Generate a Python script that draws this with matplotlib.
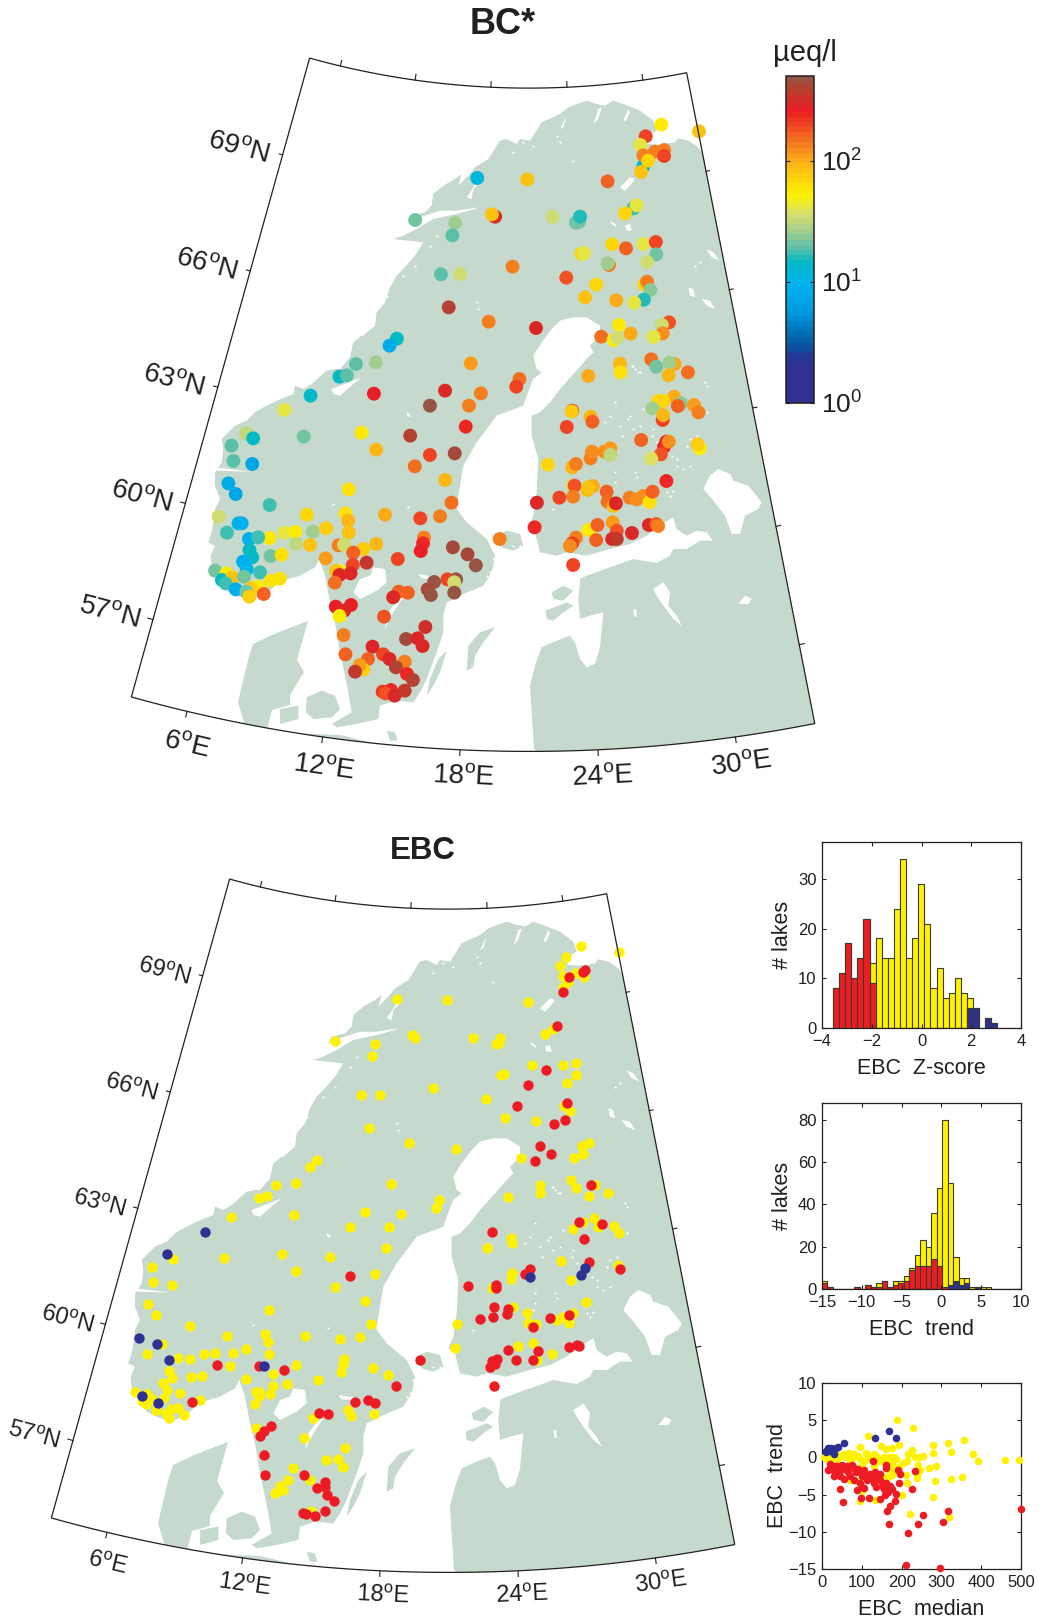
import numpy as np
import matplotlib
matplotlib.use("Agg")
import matplotlib.pyplot as plt
from matplotlib.colors import LinearSegmentedColormap, LogNorm
from matplotlib.patches import Polygon

plt.rcParams['font.family'] = ['Liberation Sans', 'DejaVu Sans']
plt.rcParams['mathtext.fontset'] = 'custom'
plt.rcParams['mathtext.rm'] = 'Liberation Sans'
plt.rcParams['mathtext.default'] = 'regular'

# lake positions are in a grid: (px-120)*2.178, (py-40)*3
bc_gx = [1179,1261,1145,1133,1165,1185,1140,1140,1185,1150,1135,778,887,1062,1118,1125,1100,817,810,942,1000,993,1002,643,730,724,1072,1102,1140,1167,1168,1005,1011,1065,1062,1148,855,699,741,972,1037,1142,1148,1155,1141,1013,1081,1120,716,803,906,1196,1180,1087,1112,1182,1162,1048,1075,1083,603,587,514,557,764,1157,1208,1168,1197,1089,1090,1237,1195,1020,870,863,478,494,415,553,708,786,1207,1172,1183,1160,1222,1215,1250,1260,675,760,358,985,984,1025,1029,1182,1183,973,753,
         275,290,400,526,632,243,247,288,558,675,729,1135,1190,1185,1195,1178,1157,1263,1258,932,985,993,1025,1028,1055,1068,1068,642,708,236,252,498,326,1190,985,990,1030,1018,1020,987,1060,1062,1075,1080,1110,1125,1140,1153,1160,908,957,722,491,407,577,697,654,215,497,
         258,265,233,449,420,358,382,498,326,281,301,383,414,476,488,558,530,662,660,655,725,757,775,903,827,1020,1040,1073,1082,1072,1082,1115,1152,1168,1172,993,985,980,1037,987,
         282,288,328,352,268,276,305,207,232,222,245,270,230,252,328,348,300,285,275,282,313,448,508,507,537,478,470,502,478,468,605,713,732,728,684,670,677,728,607,627,595,470,503,488,478,575,665,623,648,659,487,550,491,573,587,540,620,601,530,522,512,625,638,572,590,578,598,620]
bc_gy = [254,274,289,315,335,330,378,346,348,362,396,414,418,424,505,496,520,530,523,531,545,548,530,540,549,586,613,625,612,606,643,641,640,675,670,666,680,703,702,713,734,734,725,750,779,772,781,788,802,845,864,847,855,855,881,880,891,890,900,893,896,917,972,967,970,958,972,980,968,971,997,997,1006,1008,1017,1040,1010,1006,1067,1061,1052,1060,1070,1083,1083,1105,1090,1098,1095,1117,1097,1097,1110,1112,1114,1130,1145,1140,1125,1161,1160,
         1180,1195,1190,1178,1187,1217,1263,1272,1229,1245,1240,1200,1205,1220,1205,1243,1256,1225,1213,1274,1282,1272,1255,1235,1235,1225,1245,1279,1320,1330,1362,1348,1395,1323,1337,1337,1338,1350,1342,1370,1355,1385,1398,1390,1373,1378,1368,1387,1355,1388,1373,1388,1420,1424,1424,1429,1435,1430,1442,
         1450,1450,1478,1465,1475,1478,1476,1478,1494,1497,1492,1512,1515,1516,1514,1512,1527,1493,1510,1533,1522,1543,1576,1462,1497,1470,1455,1447,1472,1497,1497,1479,1455,1452,1458,1493,1510,1518,1500,1575,
         1530,1552,1548,1544,1565,1588,1597,1592,1600,1620,1613,1610,1630,1648,1622,1616,1640,1645,1655,1670,1662,1555,1538,1575,1568,1593,1593,1600,1605,1628,1557,1618,1618,1627,1626,1648,1665,1658,1655,1658,1672,1700,1695,1712,1728,1730,1761,1797,1795,1818,1785,1820,1843,1843,1857,1857,1865,1882,1888,1875,1895,1902,1920,1955,1950,1960,1967,1952]
bc_val = [54,85,200,42,130,130,12,130,200,68,85,12,85,160,18,42,68,280,85,34,22,22,16,22,27,20,68,160,42,200,22,68,42,130,27,34,130,20,34,180,68,68,130,24,16,85,100,42,380,130,280,180,34,54,100,120,42,150,54,34,14,8,20,27,115,150,100,22,27,95,60,150,90,100,150,190,14,20,15,260,300,140,100,68,70,27,24,170,110,140,480,130,42,250,75,90,170,190,90,190,230,
          30,15,22,54,400,19,19,7,90,190,420,170,260,230,120,180,38,54,75,68,90,130,140,125,120,110,30,150,95,8,7,60,18,230,38,180,100,95,85,130,170,150,85,280,130,120,120,60,170,300,190,150,60,70,100,140,190,34,90,
          11,9,18,75,27,42,54,85,54,9,18,30,85,130,34,90,75,140,250,260,420,450,480,250,140,54,170,110,180,280,350,300,290,170,130,130,190,120,170,190,
          14,15,22,60,9,10,18,22,54,15,85,22,18,9,60,60,54,75,22,75,160,110,170,200,350,54,85,280,280,150,190,190,480,34,480,450,470,480,160,170,280,260,260,280,54,180,320,420,300,280,130,280,160,190,290,170,130,400,75,110,370,230,400,220,230,180,280,350]

red_gx = [1152,1183,1187,1140,1125,1102,1063,1148,1038,1143,1120,1088,1113,1078,1200,1173,1224,984,1184,1195,1264,1068,1056,676,933,994,994,988,1020,1018,958,987,1111,1152,1073,1020,1084,1073,1037,1153,1170,1173,827,995,985,990,980,988,385,478,531,775,330,685,715,729,607,627,504,488,479,488,491,575,620,620,604,625,640,620,572,580,598]
red_gy = [349,332,327,394,496,626,671,725,734,778,788,855,880,900,971,1082,1089,1113,1134,1204,1223,1223,1239,1245,1275,1272,1282,1339,1345,1359,1374,1367,1372,1363,1398,1468,1471,1496,1497,1459,1452,1456,1496,1494,1500,1509,1517,1574,1512,1516,1527,1575,1622,1624,1617,1625,1656,1658,1694,1711,1725,1783,1842,1843,1862,1877,1882,1902,1921,1951,1955,1960,1965]
blue_gx = [360,276,216,255,282,488,1068,1188,1178,223,256]
blue_gy = [1112,1180,1430,1449,1497,1514,1247,1220,1242,1604,1627]

# coast outlines, traced in four sheets of the map; each sheet has its own origin
# and its points are in thirds of a pixel from that origin
SHEET_W = (180, 309)
SHEET_N = (360, 79)
SHEET_S = (280, 479)
SHEET_E = (500, 359)

west_norway = [(210,875),(170,860),(140,845),(115,810),(95,775),(92,740),(105,710),(85,700),(95,670),(100,640),(105,600),(120,570),(105,530),(105,490),(125,460),(130,420),(125,390),(165,350),(200,335),(225,310),(250,295),(290,275),(340,255),(345,230),(370,240),(395,225),(440,185),(465,180),(480,180),(510,145),(520,100),(545,80)]
north_coast = [(10,770),(45,740),(50,700),(75,670),(90,625),(110,590),(130,570),(165,530),(190,490),(100,480),(130,470),(170,450),(220,420),(290,405),(345,390),(355,385),(290,395),(240,395),(195,410),(155,420),(140,440),(155,410),(195,400),(215,380),(220,345),(250,320),(285,300),(305,285),(295,320),(325,290),(345,265),(385,240),(420,185),(440,180),(470,195),(480,180),(510,185),(545,130),(600,105),(625,85),(650,75),(680,65),(710,75),(735,80),(760,65),(790,75),(815,85),(840,95),(880,125),(890,155),(865,170),(862,195),(900,197),(945,190),(955,178),(985,185),(1015,205),(1028,225),(1045,240),(1600,240),(1600,2200),(762,2200)]
baltic_east = [(762,810),(755,700),(750,620),(765,560),(785,505),(830,485),(870,470),(885,490),(900,540),(920,565),(945,555),(960,505),(970,400),(930,410),(900,420),(895,360),(900,310)]
gulf_finland = [(240,660),(260,650),(330,625),(400,600),(470,612),(510,590),(520,570),(560,570),(600,545),(638,545),(620,520),(590,515),(560,530),(530,510),(520,475),(480,500),(440,530),(390,555),(330,570),(260,590),(200,580),(170,590),(120,580),(105,520),(85,505),(100,470),(110,400),(115,300),(95,230),(95,170),(120,160),(150,130),(180,90),(225,40),(260,0)]
bothnia_head = [(680,840),(700,820),(690,800),(720,770),(720,740),(680,715),(640,715),(600,725),(575,750),(545,790),(520,830),(530,870),(545,880),(520,900)]
sweden_east = [(1040,260),(1030,290),(950,320),(890,400),(850,470),(830,590),(830,600),(860,640),(920,690),(945,740),(940,770)]
sweden_south = [(635,280),(610,320),(550,345),(500,370),(490,410),(490,460),(470,520),(440,600),(420,640),(400,670),(345,665),(300,680),(295,720),(230,735),(170,745),(155,735),(215,700),(205,640),(195,590),(180,520),(165,430),(150,370),(135,290),(118,240),(105,265),(60,290),(25,300),(0,310)]
skagerrak = [(300,815),(260,855)]

jutland = [(292,627),(308,621),(297,660),(304,672),(290,695),(290,705),(272,710),(267,730),(290,733),(340,735),(386,746),(395,760),(395,800),(200,800),(244,722),(238,702),(248,660),(253,644),(272,635)]
islands_s = [
    [(78,700),(80,655),(125,635),(165,650),(180,690),(155,715),(100,720)],
    [(0,690),(55,680),(55,720),(0,735)],
    [(560,575),(565,500),(600,460),(645,445),(610,490),(585,530),(580,565)],
    [(440,650),(450,600),(475,540),(500,515),(480,580),(460,620)],
    [(650,170),(680,155),(720,165),(730,200),(700,215),(665,205)],
    [(797,395),(860,370),(880,380),(850,400),(820,425),(800,420)],
    [(815,340),(850,320),(880,335),(850,365),(820,360)],
    [(320,755),(345,760),(352,785),(330,785)]]
lakes_s = [
    [(220,340),(240,300),(270,290),(280,265),(315,270),(320,310),(290,335),(260,350),(240,360)],
    [(315,450),(325,400),(350,365),(370,355),(340,400),(325,430)],
    [(415,285),(445,290),(480,295),(450,300),(425,298)]]
lakes_e = [
    [(610,390),(630,350),(655,330),(690,345),(700,365),(745,380),(785,430),(775,450),(735,470),(720,525),(695,525),(675,470),(640,425)],
    [(460,690),(490,670),(510,700),(505,740),(530,770),(545,800),(520,780),(490,740),(470,710)],
    [(715,735),(735,710),(755,720),(745,735)],
    [(400,750),(410,752),(410,775),(403,772)]]
lakes_n = [
    [(780,325),(810,295),(825,300),(810,320),(795,335)],
    [(320,355),(350,310),(360,290),(370,300),(340,330),(335,360)],
    [(700,135),(715,90),(725,85),(715,120)],
    [(790,125),(805,90),(810,100),(798,125)],
    [(600,150),(620,110),(610,145)],
    [(750,425),(765,435),(770,445),(755,435)],
    [(795,440),(810,435),(815,455),(800,455)],
    [(1040,510),(1060,520),(1078,545),(1055,535)],
    [(1025,660),(1050,665),(1065,690),(1040,680)],
    [(985,625),(1000,630),(1005,655),(990,650)]]
lakes_w = [
    [(105,475),(215,488),(105,485)],
    [(455,240),(545,205),(520,225),(480,260),(460,255)],
    [(680,310),(690,315),(692,325),(682,320)]]
specks_e = [(405,30),(420,40),(395,20),(345,130),(390,170),(385,180),(400,210),(420,200),(460,210),(455,230),(470,250),(515,290),(530,300),(550,330),(570,320),(560,260),(570,240),(590,230),(530,320),(405,340),(410,355),(345,340),(345,370),(340,390),(315,190),(500,400),(520,395),(510,410),(620,160),(620,80),(615,70),(360,200),(365,230),(160,450),(330,170),(430,150)]
specks_n = [(640,245),(520,200),(490,190),(460,220),(600,190),(590,170),(820,860),(835,880),(350,670),(355,690),(1020,550),(1005,560),(230,470),(210,500),(165,560),(130,590),(80,650)]
specks_s = [(730,190),(745,180),(755,210),(720,200),(700,200),(640,240),(650,260),(630,280),(620,290),(160,75),(385,85)]

lat_ticks = [57, 60, 63, 66, 69]
lon_ticks = [6, 12, 18, 24, 30]

cbar_colors = [(0.0,'#2e3192'),(0.12,'#2e3192'),(0.19,'#0060aa'),(0.27,'#0099dd'),(0.37,'#00b5ef'),(0.426,'#00b9c6'),(0.478,'#5fc0a8'),(0.53,'#a8d08d'),(0.58,'#d7df6c'),(0.64,'#fff200'),(0.74,'#fbb116'),(0.82,'#f26522'),(0.90,'#ed1c24'),(0.955,'#c0392b'),(1.0,'#965443')]

z_total = [8,11,17,10,14,22,13,18,14,14,24,34,14,18,29,21,8,12,6,7,10,7,6,4,0,2,1,0,0,0]
z_red = [8,11,17,10,14,22,9]
z_blue = [0]*22 + [4,4,0,2,1,0,0,0]
trend_total = [4,1,0,0,0,0,1,0,2,1,3,4,1,4,4,6,10,16,23,20,36,48,80,50,15,5,5,1,1,1,1,0,0,0,0,0,0,1]
trend_red = [3,1,0,0,0,0,1,0,2,1,1,4,1,2,3,4,9,11,11,11,14,11,1,0,0,0,0,0,0,0,0,0,0,0,0,0,0,0]
trend_blue = [0]*22 + [0,2,4,2,3,0,1,0,0,0,0,0,0,0,0,0]

yel_x = [188,228,116,279,317,357,95,149,160,176,194,225,217,278,325,380,392,460,496,254,244,233,213,204,194,269,286,242,246,239,239,283,325,351,213,211,202,279,221,319,96,133,101,5,12,20,30,35,45,55,60,68,75,80,90,95,105,110,118,125,130,135,145,150,155,165,170,180,185,175,160,165,180,190,175,165,155,130,100,70,40,150,90,70]
yel_y = [5.0,4.0,2.9,1.7,2.0,2.3,1.4,1.5,1.1,1.2,1.6,1.0,0.5,0.6,0.7,0.5,-0.5,-0.3,-0.3,0.2,0,0,-0.5,-0.75,-1.3,-1.4,-1.1,-1.0,-1.7,-2.8,-2.2,-3.2,-2.9,-2.7,-3.5,-2.4,-5,-5.3,-7.6,-8,-5.9,-5.7,-4.5,0,-0.2,0.2,-0.3,0.5,0.2,0.5,0,0.6,-0.1,0.5,0.2,-0.2,-0.5,0.6,0.1,-0.3,0.5,0.2,-0.5,-0.2,0.1,-0.3,0.1,0,-0.2,-0.8,-1,-1.6,-1.7,-1.4,-2.3,-2.6,-2.7,-1.2,-1,-0.8,-0.8,-3.5,-3.2,-3]
red_x = [128,162,160,192,197,233,194,227,44,53,87,99,118,145,159,187,183,172,163,169,242,253,303,316,500,216,210,296,20,15,22,28,32,30,38,42,45,50,55,55,62,65,70,75,80,85,80,90,95,100,105,110,100,112,120,125,130,133,140,145,135,150,155,160,165,170,175,145,95,105]
red_y = [-0.5,-1.0,-1.4,-1.7,-2.2,-1.8,-3.4,-4.3,-4.3,-6,-4.4,-5.5,-5.4,-5.6,-5.1,-4.9,-5.8,-6.5,-7.2,-8.9,-8.9,-7.8,-8.7,-7.2,-7,-10.2,-14.4,-14.8,-0.9,-1.7,-1.5,-1.2,-2,-2.5,-1.2,-1.8,-2.5,-1,-1.5,-2.9,-1.2,-2,-2.5,-1,-1.4,-2,-3,-1.5,-2,-2.5,-1.7,-2.3,-4,-3,-2.2,-2.8,-3.5,-2,-2.6,-3,-4,-3.8,-4.3,-3.5,-4.6,-3.9,-4.3,-2.2,-3.5,-4.1]
blu_x = [55,132,169,185,11,15,23,19,29,34,40,26,11]
blu_y = [2,2.6,3.6,2.6,0.9,1.2,1.3,0.9,0.5,1.2,1.4,0.9,0.7]

RED, YEL, BLU = '#ed1c24', '#fff200', '#2e3192'
LAND, INK = '#c5d9cd', '#231f20'
W, H = 1039, 1622

def grid(points):
    pts = np.array(points, dtype=float)
    return np.c_[120 + pts[:, 0] / 2.178, 40 + pts[:, 1] / 3]

def sheet(origin, points):
    pts = np.array(points, dtype=float)
    return np.c_[origin[0] + pts[:, 0] / 3, origin[1] + pts[:, 1] / 3]

def project(lon, lat):
    # conic projection fitted to the printed graticule
    rho = 1399 - (np.asarray(lat, float) - 57) * 40.2
    th = np.radians(0.891 * (np.asarray(lon, float) - 21.0))
    return 529 + rho * np.sin(th), -728 + rho * np.cos(th)

def px_axes(l, t, r, b):
    return fig.add_axes([l / W, 1 - b / H, (r - l) / W, (b - t) / H])

land_main = np.vstack([sheet(SHEET_W, west_norway), sheet(SHEET_N, north_coast), sheet(SHEET_S, baltic_east),
                       sheet(SHEET_E, gulf_finland), sheet(SHEET_N, bothnia_head), sheet(SHEET_W, sweden_east),
                       sheet(SHEET_S, sweden_south), sheet(SHEET_W, skagerrak)])
land_parts = [land_main, np.array(jutland, float)] + [sheet(SHEET_S, p) for p in islands_s]
lake_parts = [sheet(SHEET_S, p) for p in lakes_s] + [sheet(SHEET_E, p) for p in lakes_e] + \
             [sheet(SHEET_N, p) for p in lakes_n] + [sheet(SHEET_W, p) for p in lakes_w]
specks = np.vstack([sheet(SHEET_E, specks_e), sheet(SHEET_N, specks_n), sheet(SHEET_S, specks_s)])

def draw_map(left, top, label_size, lat_off, lon_dy):
    ax = px_axes(left, top, left + 740, top + 800)
    ax.set_xlim(100, 840)
    ax.set_ylim(800, 0)
    ax.axis('off')
    lons = np.linspace(3.5, 33.5, 121)
    lats = np.linspace(55, 71.5, 40)
    fx, fy = zip(project(lons, 55 + 0 * lons), project(33.5 + 0 * lats, lats),
                 project(lons[::-1], 71.5 + 0 * lons), project(3.5 + 0 * lats, lats[::-1]))
    frame = np.c_[np.concatenate(fx), np.concatenate(fy)]
    clip = Polygon(frame, closed=True, transform=ax.transData)
    for poly in land_parts:
        p = Polygon(poly, closed=True, fc=LAND, ec='none', zorder=1)
        ax.add_patch(p)
        p.set_clip_path(clip)
    for poly in lake_parts:
        p = Polygon(poly, closed=True, fc='white', ec='none', zorder=2)
        ax.add_patch(p)
        p.set_clip_path(clip)
    ax.scatter(specks[:, 0], specks[:, 1], c='white', s=2.5, marker='o', linewidths=0, zorder=2)
    ax.add_patch(Polygon(frame, closed=True, fc='none', ec=INK, lw=0.9, zorder=6))
    for lat in lat_ticks:
        for lon0, sgn in ((3.5, -1), (33.5, 1)):
            x0, y0 = project(lon0, lat)
            x1, y1 = project(lon0 + sgn * 0.24, lat)
            ax.plot([x0, x1], [y0, y1], color=INK, lw=0.8, zorder=6, clip_on=False)
        x0, y0 = project(3.5, lat)
        ax.text(x0 + lat_off[0], y0 + lat_off[1], '%d$^{o}$N' % lat, fontsize=label_size, color=INK,
                rotation=-15, ha='center', va='center', rotation_mode='anchor')
    for lon, extra in zip(lon_ticks, (6, 3, 0, 0, 0)):
        for lat0, sgn in ((55, -1), (71.5, 1)):
            x0, y0 = project(lon, lat0)
            x1, y1 = project(lon, lat0 + sgn * 0.14)
            ax.plot([x0, x1], [y0, y1], color=INK, lw=0.8, zorder=6, clip_on=False)
        x0, y0 = project(lon, 55)
        ax.text(x0 + (lon - 6) * 0.25, y0 + lon_dy + extra, '%d$^{o}$E' % lon, fontsize=label_size, color=INK,
                rotation=0.891 * (lon - 21), ha='center', va='center', rotation_mode='anchor')
    return ax

def style_small(ax, xlabel, ylabel, ylabel_x):
    ax.tick_params(direction='in', length=3, width=0.8, top=True, right=True,
                   labelsize=12, colors=INK, pad=4)
    ax.set_xlabel(xlabel, fontsize=15.5, color=INK, labelpad=7)
    ax.set_ylabel(ylabel, fontsize=15.5, color=INK)
    ax.yaxis.set_label_coords(ylabel_x, 0.5)
    for s in ax.spines.values():
        s.set_linewidth(0.9)
        s.set_color(INK)

fig = plt.figure(figsize=(W / 100, H / 100), dpi=100)
fig.text(503 / W, 1 - 25 / H, 'BC*', fontsize=26, fontweight='bold', color=INK, ha='center', va='center')
fig.text(423 / W, 1 - 851 / H, 'EBC', fontsize=22.5, fontweight='bold', color=INK, ha='center', va='center')

cmap = LinearSegmentedColormap.from_list('bc', cbar_colors, N=64)
norm = LogNorm(vmin=1, vmax=500)

bc_xy = grid(np.c_[bc_gx, bc_gy])
ax1 = draw_map(100, 0, 20, (-44, -7), 27)
sc = ax1.scatter(bc_xy[:, 0], bc_xy[:, 1], c=bc_val, cmap=cmap, norm=norm, s=100, linewidths=0, zorder=4)

ax2 = draw_map(20, 821, 17, (-39, -4), 25)
red_xy = grid(np.c_[red_gx, red_gy])
blue_xy = grid(np.c_[blue_gx, blue_gy])
special = np.r_[red_xy, blue_xy]
dist = np.hypot(bc_xy[:, None, 0] - special[:, 0], bc_xy[:, None, 1] - special[:, 1]).min(axis=1)
yellow_xy = bc_xy[dist > 3.5]
ax2.scatter(yellow_xy[:, 0], yellow_xy[:, 1], c=YEL, s=56, linewidths=0, zorder=4)
ax2.scatter(red_xy[:, 0], red_xy[:, 1], c=RED, s=56, linewidths=0, zorder=4)
ax2.scatter(blue_xy[:, 0], blue_xy[:, 1], c=BLU, s=56, linewidths=0, zorder=5)

cax = px_axes(786, 76, 814, 403)
cb = fig.colorbar(sc, cax=cax)
cb.set_ticks([1, 10, 100], labels=['$10^{0}$', '$10^{1}$', '$10^{2}$'])
cb.minorticks_off()
cax.tick_params(direction='in', length=3, width=0.8, left=True, right=True, labelsize=19, colors=INK, pad=5)
cb.outline.set_linewidth(1.1)
cb.outline.set_edgecolor(INK)
fig.text(805 / W, 1 - 53 / H, 'µeq/l', fontsize=21, color=INK, ha='center', va='center')

edge = '#3b3b28'
ax3 = px_axes(822, 842, 1021, 1028)
z_left = -3.56 + 0.245 * np.arange(len(z_total))
ax3.bar(z_left, z_total, width=0.245, align='edge', color=YEL, edgecolor=edge, lw=0.8)
ax3.bar(z_left[:len(z_red)], z_red, width=0.245, align='edge', color=RED, edgecolor=edge, lw=0.8)
keep = np.array(z_blue) > 0
ax3.bar(z_left[keep], np.array(z_blue)[keep], width=0.245, align='edge', color=BLU, edgecolor=edge, lw=0.8)
ax3.set_xlim(-4, 4)
ax3.set_ylim(0, 37.4)
ax3.set_xticks([-4, -2, 0, 2, 4])
ax3.set_yticks([0, 10, 20, 30])
style_small(ax3, 'EBC  Z-score', '# lakes', -0.145)

ax4 = px_axes(822, 1103, 1021, 1289)
t_left = -15.05 + 0.688 * np.arange(len(trend_total))
ax4.bar(t_left, trend_total, width=0.688, align='edge', color=YEL, edgecolor=edge, lw=0.8)
ax4.bar(t_left, trend_red, width=0.688, align='edge', color=RED, edgecolor=edge, lw=0.8)
keep = np.array(trend_blue) > 0
ax4.bar(t_left[keep], np.array(trend_blue)[keep], width=0.688, align='edge', color=BLU, edgecolor=edge, lw=0.8)
ax4.set_xlim(-15, 10)
ax4.set_ylim(0, 88)
ax4.set_xticks([-15, -10, -5, 0, 5, 10])
ax4.set_yticks([0, 20, 40, 60, 80])
style_small(ax4, 'EBC  trend', '# lakes', -0.145)

ax5 = px_axes(822, 1383, 1021, 1569)
ax5.scatter(yel_x, yel_y, c=YEL, s=30, linewidths=0, clip_on=False, zorder=3)
ax5.scatter(red_x, red_y, c=RED, s=30, linewidths=0, clip_on=False, zorder=4)
ax5.scatter(blu_x, blu_y, c=BLU, s=30, linewidths=0, clip_on=False, zorder=5)
ax5.set_xlim(0, 500)
ax5.set_ylim(-15, 10)
ax5.set_xticks([0, 100, 200, 300, 400, 500])
ax5.set_yticks([-15, -10, -5, 0, 5, 10])
style_small(ax5, 'EBC  median', 'EBC  trend', -0.17)

fig.savefig('out.png', dpi=100)
